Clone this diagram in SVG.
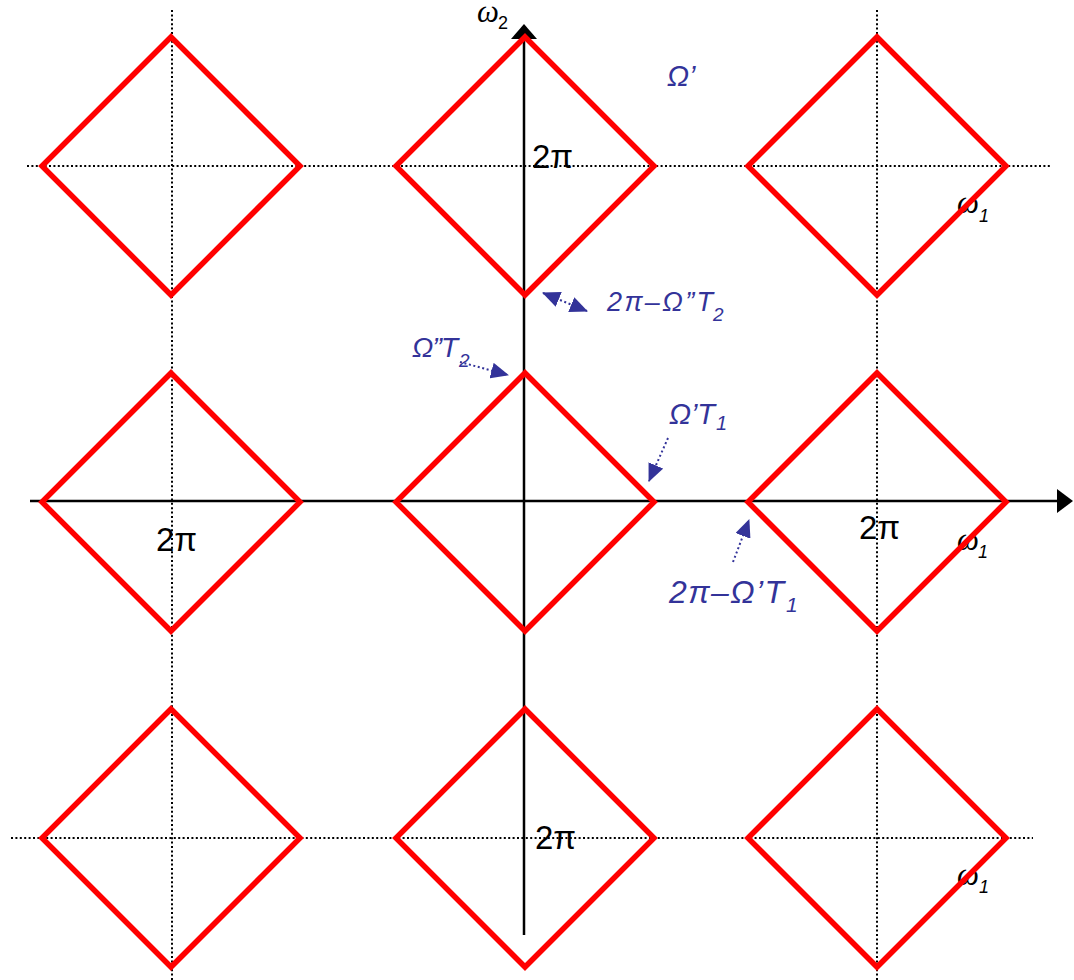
<svg xmlns="http://www.w3.org/2000/svg" width="1074" height="980" viewBox="0 0 1074 980">
<style>
.dot{stroke:#000;stroke-width:2;stroke-dasharray:2 2.4;fill:none}
.axis{stroke:#000;stroke-width:2.5;fill:none}
.dia{fill:none;stroke:#FF0000;stroke-width:5.5;stroke-linejoin:miter}
.pi{font-family:"Liberation Sans",Arial,sans-serif;font-size:33px;fill:#000}
.om{font-family:"Liberation Serif","Times New Roman",serif;font-style:italic;font-size:31px;fill:#000}
.sub{font-family:"Liberation Sans",Arial,sans-serif;font-size:18px;fill:#000}
.bl{font-family:"Liberation Sans",Arial,sans-serif;font-style:italic;fill:#333399}
.ba{stroke:#333399;stroke-width:2;stroke-dasharray:2 2.6;fill:none}
</style>
<defs>
<marker id="ah" viewBox="0 0 18 16" refX="17" refY="8" markerWidth="18" markerHeight="16" markerUnits="userSpaceOnUse" orient="auto-start-reverse">
<path d="M0,0 L18,8 L0,16 z" fill="#333399"/>
</marker>
<polygon id="d" points="0,-129 129,0 0,129 -129,0"/>
</defs>
<g id="grid">
<line class="dot" x1="172" y1="10" x2="172" y2="980"/>
<line class="dot" x1="877" y1="10" x2="877" y2="980"/>
<line class="dot" x1="27" y1="166" x2="1050" y2="166"/>
<line class="dot" x1="11" y1="838" x2="1033" y2="838"/>
</g>
<g id="axes">
<line class="axis" x1="524" y1="935" x2="524" y2="38"/>
<polygon points="524,24 511,39 537,39" fill="#000"/>
<line class="axis" x1="30" y1="501" x2="1058" y2="501"/>
<polygon points="1073,501 1057,489 1057,513" fill="#000"/>
</g>
<g id="labels">
<text class="om" x="477" y="22">ω</text><text class="sub" x="498" y="29">2</text>
<text class="om" x="957" y="213">ω</text><text class="sub" font-style="italic" x="979" y="222">1</text>
<text class="om" x="957" y="550">ω</text><text class="sub" font-style="italic" x="978" y="558">1</text>
<text class="om" x="957" y="885">ω</text><text class="sub" font-style="italic" x="979" y="893">1</text>
<text class="pi" x="532" y="168">2π</text>
<text class="pi" x="156" y="551">2π</text>
<text class="pi" x="859" y="539">2π</text>
<text class="pi" x="535" y="849">2π</text>
</g>
<g id="diamonds">
<use id="d11" href="#d" class="dia" x="171" y="166"/>
<use id="d12" href="#d" class="dia" x="525" y="166"/>
<use id="d13" href="#d" class="dia" x="877" y="166"/>
<use id="d21" href="#d" class="dia" x="171" y="502"/>
<use id="d22" href="#d" class="dia" x="525" y="502"/>
<use id="d23" href="#d" class="dia" x="877" y="502"/>
<use id="d31" href="#d" class="dia" x="171" y="838"/>
<use id="d32" href="#d" class="dia" x="525" y="838"/>
<use id="d33" href="#d" class="dia" x="877" y="838"/>
</g>
<g id="annotations">
<text class="bl" font-size="29" x="667" y="86">Ω’</text>
<text class="bl" font-size="27" x="607" y="311" textLength="106" lengthAdjust="spacing">2π–Ω”T</text><text class="bl" font-size="19" x="713" y="321">2</text>
<text class="bl" font-size="28" x="412" y="357" textLength="46" lengthAdjust="spacing">Ω”T</text><text class="bl" font-size="19" x="459" y="367">2</text>
<text class="bl" font-size="29" x="669" y="424" textLength="46" lengthAdjust="spacing">Ω’T</text><text class="bl" font-size="20" x="716" y="430">1</text>
<text class="bl" font-size="32" x="669" y="603" textLength="115" lengthAdjust="spacing">2π–Ω’T</text><text class="bl" font-size="21" x="786" y="612">1</text>
</g>
<g id="connectors">
<line class="ba" x1="543" y1="293" x2="587" y2="311" marker-start="url(#ah)" marker-end="url(#ah)"/>
<line class="ba" x1="460" y1="362" x2="508" y2="375" marker-end="url(#ah)"/>
<line class="ba" x1="668" y1="438" x2="649" y2="481" marker-end="url(#ah)"/>
<line class="ba" x1="733" y1="562" x2="749" y2="520" marker-end="url(#ah)"/>
</g>
</svg>
